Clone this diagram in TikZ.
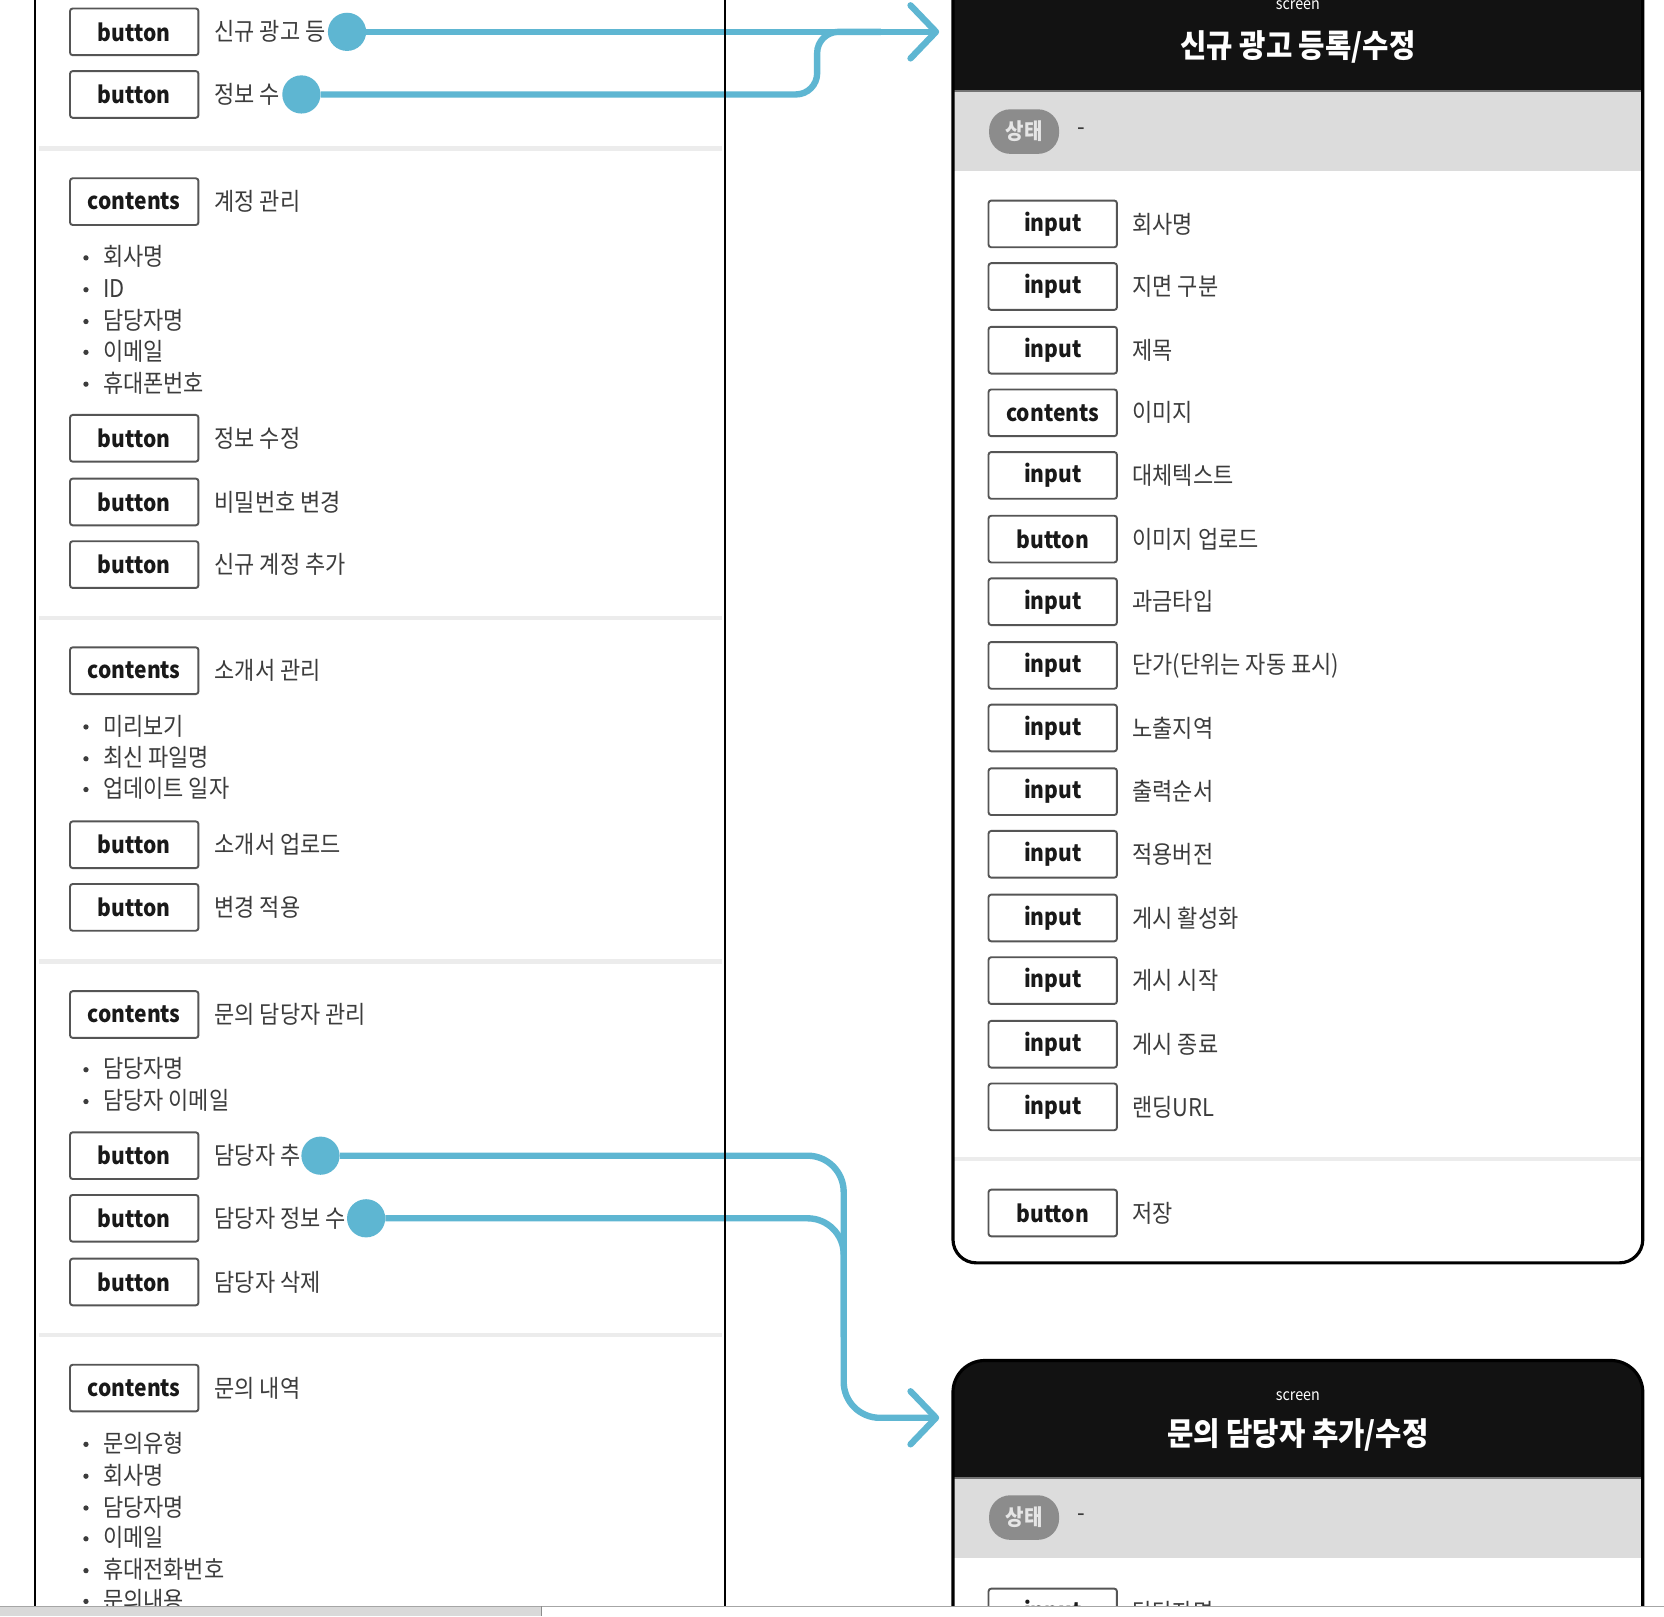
\documentclass[tikz,border=0pt]{standalone}
\usepackage{fontspec}
\setmainfont{Noto Sans CJK KR}[FakeStretch=0.9]
\usetikzlibrary{arrows.meta}
\definecolor{conn}{RGB}{94,182,210}
\definecolor{labgray}{RGB}{60,60,60}
\definecolor{boxline}{RGB}{85,85,85}
\definecolor{sepgray}{RGB}{236,236,236}
\definecolor{bandgray}{RGB}{220,220,220}
\definecolor{pillgray}{RGB}{140,140,140}
\definecolor{headblack}{RGB}{18,18,18}
\begin{document}
\begin{tikzpicture}[x=1pt,y=-1pt,
  box/.style={draw=boxline, line width=1.8pt, fill=white, rounded corners=2.5pt, minimum width=121pt, minimum height=44pt, inner sep=0pt, text=black!90, font=\fontsize{22}{22}\selectfont\bfseries},
  lab/.style={anchor=west, inner sep=0pt, text=labgray, font=\fontsize{23}{23}\selectfont},
  bul/.style={circle, fill=labgray, minimum size=5pt, inner sep=0pt},
  dot/.style={circle, fill=conn, minimum size=36pt, inner sep=0pt},
  conn/.style={draw=conn, line width=6pt},
  tip/.style={-{Straight Barb[length=24pt,width=50pt,round]}},
  sepline/.style={draw=sepgray, line width=4pt},
  pill/.style={fill=pillgray, rounded corners=20pt, minimum width=66pt, minimum height=42pt, inner sep=0pt, text=white!90!black, font=\fontsize{21}{21}\selectfont\bfseries},
  titletext/.style={text=white, inner sep=0pt, font=\fontsize{30}{30}\selectfont\bfseries},
  scrtext/.style={text=white, inner sep=0pt, font=\fontsize{15}{15}\selectfont}
]
\useasboundingbox (0,0) rectangle (1568,1523);
\fill[white] (0,0) rectangle (1568,1523);

\begin{scope}
\clip (0,0) rectangle (1568,1513);
% left panel separators
\foreach \y in {140,582,906,1258} \draw[sepline] (37,\y) -- (680,\y);

% left rows
\foreach \t/\y/\l [count=\i] in {button/30/신규 광고 등, button/89/정보 수, contents/190/계정 관리, button/413/정보 수정, button/473/비밀번호 변경, button/532/신규 계정 추가, contents/632/소개서 관리, button/796/소개서 업로드, button/855/변경 적용, contents/956/문의 담당자 관리, button/1089/담당자 추, button/1148/담당자 정보 수, button/1208/담당자 삭제, contents/1308/문의 내역}{
  \node[box] (lb\i) at (126.5,\y) {\t};
  \node[lab] (ll\i) at (202,\y) {\l};
}
% bullets
\foreach \y/\l [count=\i] in {242/회사명, 272/ID, 302/담당자명, 331/이메일, 361/휴대폰번호, 684/미리보기, 714/최신 파일명, 743/업데이트 일자, 1007/담당자명, 1037/담당자 이메일, 1360/문의유형, 1390/회사명, 1420/담당자명, 1449/이메일, 1479/휴대전화번호, 1508/문의내용}{
  \node[bul] (bd\i) at (81,\y+1) {};
  \node[lab] (bt\i) at (97,\y) {\l};
}

% card 1
\begin{scope}
\clip[rounded corners=22pt] (898,-40) rectangle (1548,1190);
\fill[white] (898,-40) rectangle (1548,1190);
\fill[headblack] (898,-40) rectangle (1548,85);
\fill[bandgray] (898,87) rectangle (1548,161);
\draw[black!55, line width=2pt] (898,86) -- (1548,86);
\draw[sepline] (898,1092) -- (1548,1092);
\end{scope}
\draw[line width=3pt, rounded corners=22pt] (898,-40) rectangle (1548,1190);
\node[scrtext] (s1scr) at (1223,5) {screen};
\node[titletext] (s1title) at (1223,44) {신규 광고 등록/수정};
\node[pill] (s1pill) at (965,124) {상태};
\node[lab] (s1dash) at (1015,124) {-};
\foreach \t/\y/\l [count=\i] in {input/211/회사명, input/270/지면 구분, input/330/제목, contents/389/이미지, input/448/대체텍스트, button/508/이미지 업로드, input/567/과금타입, input/627/단가(단위는 자동 표시), input/686/노출지역, input/746/출력순서, input/805/적용버전, input/865/게시 활성화, input/924/게시 시작, input/984/게시 종료, input/1043/랜딩URL, button/1143/저장}{
  \node[box] (rb\i) at (992,\y) {\t};
  \node[lab] (rl\i) at (1067,\y) {\l};
}

% card 2
\begin{scope}
\clip[rounded corners=30pt] (898,1282) rectangle (1548,1660);
\fill[white] (898,1282) rectangle (1548,1660);
\fill[headblack] (898,1282) rectangle (1548,1392);
\fill[bandgray] (898,1394) rectangle (1548,1468);
\draw[black!55, line width=2pt] (898,1393) -- (1548,1393);
\end{scope}
\draw[line width=3pt, rounded corners=30pt] (898,1282) rectangle (1548,1660);
\node[scrtext] (s2scr) at (1223,1316) {screen};
\node[titletext] (s2title) at (1223,1352) {문의 담당자 추가/수정};
\node[pill] (s2pill) at (965,1430) {상태};
\node[lab] (s2dash) at (1015,1430) {-};
\node[box] (s2b1) at (992,1519) {input};
\node[lab] (s2l1) at (1067,1519) {담당자명};

% connectors
\node[dot] (dot1) at (327,30) {};
\node[dot] (dot2) at (284,89) {};
\node[dot] (dot3) at (302,1089) {};
\node[dot] (dot4) at (345,1148) {};
\coordinate (t1) at (885,30);
\coordinate (j1) at (830,30);
\coordinate (t2) at (885,1336);
\draw[conn, tip] (dot1) -- (t1);
\draw[conn, rounded corners=20pt] (dot2) -- (770,89) -- (770,30) -- (j1);
\draw[conn, rounded corners=34pt] (dot4) -- (795,1148) -- (795,1260);
\draw[conn, tip, rounded corners=34pt] (dot3) -- (795,1089) -- (795,1336) -- (t2);

% left panel vertical lines
\draw[line width=2.5pt] (33,-5) -- (33,1520);
\draw[line width=2.5pt] (683,-5) -- (683,1520);
\end{scope}

% bottom bars
\fill[black!15] (0,1513) rectangle (510,1523);
\draw[black!35, line width=1pt] (0,1513.5) -- (1568,1513.5);
\draw[black!45, line width=1pt] (510.5,1513.5) -- (510.5,1523);
\end{tikzpicture}
\end{document}
